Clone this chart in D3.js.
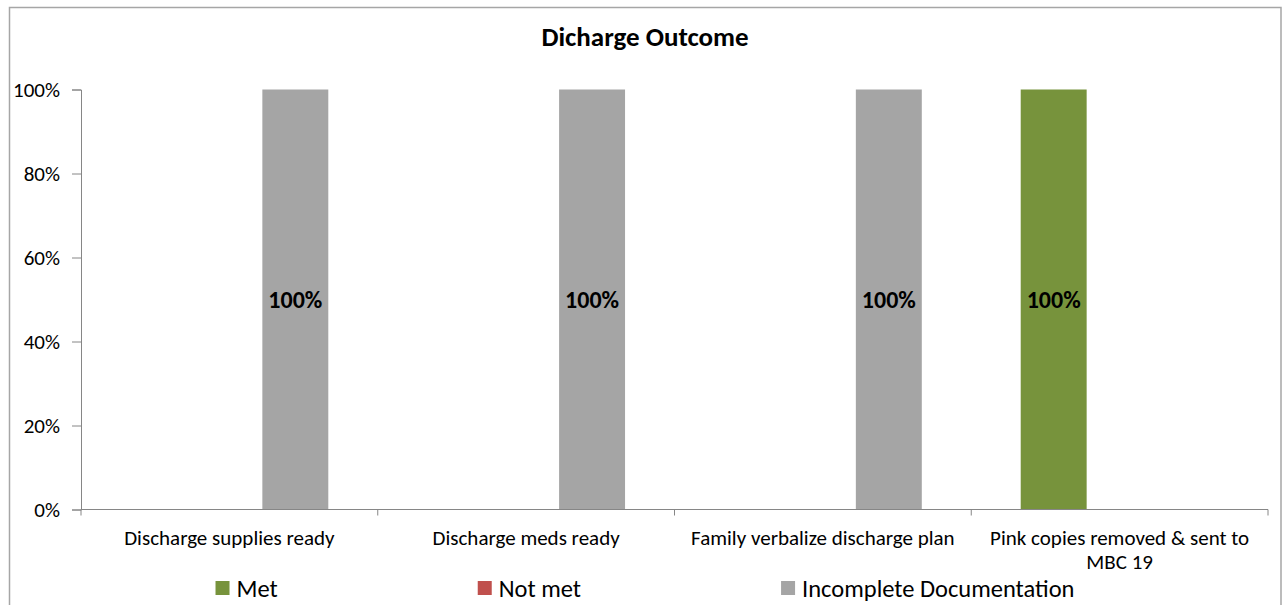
<!DOCTYPE html>
<html>
<head>
<meta charset="utf-8">
<script src="https://cdn.jsdelivr.net/npm/d3@7"></script>
<style>
  body { margin: 0; background: #fff; }
  text { font-family: Calibri, Carlito, "Liberation Sans", Arial, sans-serif; fill: #000; }
</style>
</head>
<body>
<div id="chart"></div>
<script>
// chart data
var categories = ["Discharge supplies ready", "Discharge meds ready", "Family verbalize discharge plan", "Pink copies removed & sent to MBC 19"];
var seriesNames = ["Met", "Not met", "Incomplete Documentation"];
var seriesColors = ["#77933C", "#C0504D", "#A5A5A5"];
var metValues = [0, 0, 0, 1];
var notMetValues = [0, 0, 0, 0];
var incompleteValues = [1, 1, 1, 0];
var yTicks = [0, 0.2, 0.4, 0.6, 0.8, 1];

var svgWidth = 1283;
var svgHeight = 605;

var margin = { top: 89.5, right: 15, bottom: 95.5, left: 81 };
var width = svgWidth - margin.left - margin.right;
var height = svgHeight - margin.top - margin.bottom;

var svg = d3.select("#chart")
    .append("svg")
    .attr("width", svgWidth)
    .attr("height", svgHeight);

// chart border
svg.append("rect")
    .attr("x", 9.5)
    .attr("y", 7.5)
    .attr("width", 1271.5)
    .attr("height", 620)
    .attr("fill", "none")
    .attr("stroke", "#a6a6a6")
    .attr("stroke-width", 1.5);

// title
svg.append("text")
    .attr("x", 645)
    .attr("y", 46)
    .attr("text-anchor", "middle")
    .style("font-size", "27px")
    .style("font-weight", "bold")
    .text("Dicharge Outcome");

var chart = svg.append("g")
    .attr("transform", `translate(${margin.left}, ${margin.top})`);

var allSeries = [metValues, notMetValues, incompleteValues];
var rows = categories.map(function (c, i) {
    return { category: c, values: allSeries.map(function (s, j) { return { series: j, value: s[i] }; }) };
});

// scales
var x0 = d3.scaleBand()
    .domain(categories)
    .range([0, width])
    .paddingInner(0)
    .paddingOuter(0);

// gap width 150% -> group = 3 bars, gap = 1.5 bars
var groupInset = x0.bandwidth() * 1.5 / 4.5 / 2;
var x1 = d3.scaleBand()
    .domain(d3.range(seriesNames.length))
    .range([groupInset, x0.bandwidth() - groupInset]);

var yscale = d3.scaleLinear()
    .domain([0, 1])
    .range([height, 0]);

// y axis
var yAxis = chart.append("g")
    .call(d3.axisLeft(yscale).tickValues(yTicks).tickFormat(d3.format(".0%")).tickSize(9).tickPadding(12));
yAxis.select(".domain").attr("stroke", "#868686");
yAxis.selectAll(".tick line").attr("stroke", "#868686");
yAxis.selectAll(".tick text").style("font-size", "21px");

// bars
var groups = chart.selectAll(".group")
    .data(rows)
    .enter()
    .append("g")
    .attr("transform", d => `translate(${x0(d.category)}, 0)`);

groups.selectAll("rect")
    .data(d => d.values)
    .enter()
    .append("rect")
    .attr("x", d => x1(d.series))
    .attr("width", x1.bandwidth())
    .attr("y", d => yscale(d.value))
    .attr("height", d => height - yscale(d.value))
    .attr("fill", d => seriesColors[d.series]);

// data labels
groups.selectAll(".lbl")
    .data(d => d.values.filter(v => v.value > 0))
    .enter()
    .append("text")
    .attr("class", "lbl")
    .attr("x", d => x1(d.series) + x1.bandwidth() / 2)
    .attr("y", d => yscale(d.value / 2))
    .attr("dy", "0.35em")
    .attr("text-anchor", "middle")
    .style("font-size", "24px")
    .style("font-weight", "bold")
    .text(d => d3.format(".0%")(d.value));

// x axis
var xAxis = chart.append("g")
    .attr("transform", `translate(0, ${height})`);
xAxis.append("line")
    .attr("x1", 0).attr("x2", width)
    .attr("stroke", "#868686");
xAxis.selectAll(".xtick")
    .data(categories.concat(["end"]))
    .enter()
    .append("line")
    .attr("x1", (d, i) => i * x0.step())
    .attr("x2", (d, i) => i * x0.step())
    .attr("y1", 0).attr("y2", 6)
    .attr("stroke", "#868686");

var xLabels = xAxis.selectAll(".xlabel")
    .data(categories)
    .enter()
    .append("text")
    .attr("x", d => x0(d) + x0.bandwidth() / 2)
    .attr("y", 35)
    .attr("text-anchor", "middle")
    .style("font-size", "21px");

// wrap long category names
xLabels.each(function (d) {
    var el = d3.select(this);
    var words = d.split(" ");
    var line = [];
    var tspan = el.append("tspan").attr("x", el.attr("x")).attr("dy", 0);
    words.forEach(function (w) {
        line.push(w);
        tspan.text(line.join(" "));
        if (tspan.node().getComputedTextLength() > x0.bandwidth() - 8 && line.length > 1) {
            line.pop();
            tspan.text(line.join(" "));
            line = [w];
            tspan = el.append("tspan").attr("x", el.attr("x")).attr("dy", "1.15em").text(w);
        }
    });
});

// legend
var legend = svg.append("g");
var items = legend.selectAll(".item")
    .data(seriesNames)
    .enter()
    .append("g");
items.append("rect")
    .attr("width", 14)
    .attr("height", 14)
    .attr("y", -7)
    .attr("fill", (d, i) => seriesColors[i]);
items.append("text")
    .attr("x", 21)
    .attr("dy", "0.35em")
    .style("font-size", "24.5px")
    .text(d => d);

var itemWidths = [];
items.each(function () { itemWidths.push(this.getBBox().width); });
var legendGap = 200;
var totalW = d3.sum(itemWidths) + legendGap * (itemWidths.length - 1);
var pos = 645 - totalW / 2;
items.attr("transform", function (d, i) {
    var t = `translate(${pos}, 588)`;
    pos += itemWidths[i] + legendGap;
    return t;
});
</script>
</body>
</html>
